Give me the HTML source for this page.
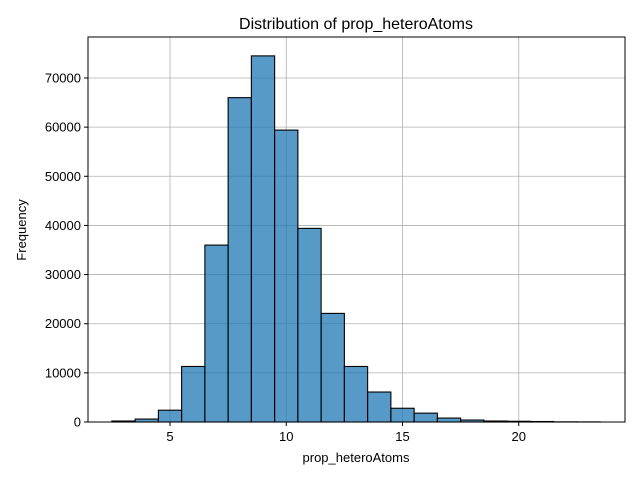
<!DOCTYPE html>
<html><head><meta charset="utf-8"><style>body{margin:0;background:#fff}svg{display:block;font-family:"Liberation Sans",sans-serif}</style></head>
<body>
<svg id="chart" width="640" height="480">
<text x="356" y="29" text-anchor="middle" font-size="16">Distribution of prop_heteroAtoms</text>
<g id="grid"></g><g id="bars"></g><g id="ticks"></g>
<rect x="88" y="37" width="537" height="385" fill="none" stroke="#000" stroke-width="1"/>
<text x="356" y="462" text-anchor="middle" font-size="13">prop_heteroAtoms</text>
<text transform="translate(26,230) rotate(-90)" text-anchor="middle" font-size="13">Frequency</text>
</svg>
<script>
const binStarts=[2.5,3.5,4.5,5.5,6.5,7.5,8.5,9.5,10.5,11.5,12.5,13.5,14.5,15.5,16.5,17.5,18.5,19.5,20.5,21.5,22.5];
const counts=[200,600,2400,11300,36000,66000,74500,59400,39400,22100,11300,6100,2800,1800,800,400,200,150,100,30,20];
const binWidth=1;
const xTicks=[5,10,15,20];
const yTicks=[0,10000,20000,30000,40000,50000,60000,70000];
const X=v=>53.75+v*23.25, Y=v=>422-v*344/70000;
const ns="http://www.w3.org/2000/svg";
const mk=(p,t,a)=>{const e=document.createElementNS(ns,t);for(const k in a)e.setAttribute(k,a[k]);document.getElementById(p).appendChild(e);return e;};
xTicks.forEach(t=>{
 const g=mk('grid','line',{x1:X(t),x2:X(t),y1:37,y2:422,stroke:'#b0b0b0','stroke-width':0.8});
 
 
 mk('ticks','line',{x1:X(t),x2:X(t),y1:422,y2:426,stroke:'#000'});
 const l=mk('ticks','text',{x:X(t),y:441,'text-anchor':'middle','font-size':13});l.textContent=t;
 
 
});
yTicks.forEach(t=>{
 const g=mk('grid','line',{x1:88,x2:625,y1:Y(t),y2:Y(t),stroke:'#b0b0b0','stroke-width':0.8});
 
 
 mk('ticks','line',{x1:84,x2:88,y1:Y(t),y2:Y(t),stroke:'#000'});
 const l=mk('ticks','text',{x:81,y:Y(t)+4.5,'text-anchor':'end','font-size':13});l.textContent=t;
 
 
});
binStarts.forEach((s,i)=>{
 const b=mk('bars','rect',{x:X(s),y:Y(counts[i]),width:X(s+binWidth)-X(s),height:422-Y(counts[i]),fill:'rgba(31,119,180,0.75)',stroke:'#000','stroke-width':1.1});
 
 
});
</script>
</body></html>
